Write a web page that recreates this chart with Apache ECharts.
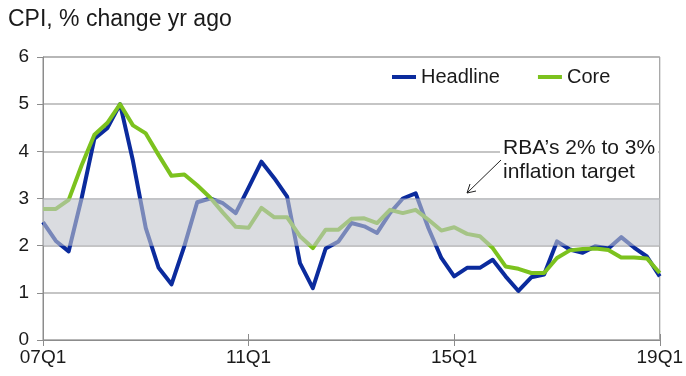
<!DOCTYPE html>
<html>
<head>
<meta charset="utf-8">
<script src="https://cdn.jsdelivr.net/npm/echarts@6/dist/echarts.min.js"></script>
<style>
  html, body { margin: 0; padding: 0; background: #fff; }
  #chart { width: 686px; height: 376px; }
</style>
</head>
<body>
<div id="chart"></div>
<script>
// Quarterly CPI, year-ended % change, 2007Q1 .. 2019Q1
const quarters = [];
for (let y = 7; y <= 19; y++) {
  for (let q = 1; q <= 4; q++) {
    if (y === 19 && q > 1) break;
    quarters.push(String(y).padStart(2, '0') + 'Q' + q);
  }
}

const headline = [
  2.5, 2.1, 1.88, 3.0, 4.27, 4.49, 5.0, 3.8, 2.37, 1.53,
  1.18, 1.99, 2.92, 3.0, 2.9, 2.69, 3.23, 3.78, 3.43, 3.04,
  1.63, 1.1, 1.94, 2.09, 2.48, 2.41, 2.27, 2.69, 3.0, 3.11,
  2.37, 1.74, 1.35, 1.53, 1.53, 1.7, 1.35, 1.04, 1.33, 1.39,
  2.09, 1.92, 1.85, 1.99, 1.94, 2.18, 1.96, 1.77, 1.35
];

const core = [
  2.78, 2.78, 2.97, 3.7, 4.35, 4.6, 5.0, 4.55, 4.38, 3.92,
  3.48, 3.51, 3.28, 3.02, 2.7, 2.4, 2.38, 2.8, 2.6, 2.6,
  2.2, 1.95, 2.34, 2.34, 2.57, 2.58, 2.48, 2.76, 2.69, 2.76,
  2.55, 2.32, 2.39, 2.25, 2.2, 1.95, 1.56, 1.51, 1.42, 1.42,
  1.74, 1.9, 1.93, 1.94, 1.91, 1.75, 1.75, 1.73, 1.42
];

// RBA inflation target band (%)
const targetBand = [2, 3];

const FONT = '"Liberation Sans", Arial, sans-serif';
const AXIS_GREY = '#8c8c8c';
const labelEvery = (i) => i % 16 === 0;

const chart = echarts.init(document.getElementById('chart'), null, { renderer: 'canvas' });

chart.setOption({
  animation: false,
  backgroundColor: '#ffffff',
  textStyle: { fontFamily: FONT },
  title: {
    text: 'CPI, % change yr ago',
    left: 8,
    top: 8,
    padding: 0,
    textStyle: { fontFamily: FONT, fontSize: 23, fontWeight: 'normal', color: '#1a1a1a' }
  },
  legend: {
    data: ['Headline', 'Core'],
    left: 392,
    top: 67,
    padding: 0,
    icon: 'rect',
    itemWidth: 24,
    itemHeight: 4,
    itemGap: 38,
    textStyle: { fontFamily: FONT, fontSize: 20, color: '#1a1a1a' }
  },
  grid: {
    left: 43, right: 25, top: 57, bottom: 36,
    show: true, borderColor: AXIS_GREY, borderWidth: 1
  },
  xAxis: [
    {
      type: 'category',
      data: quarters,
      boundaryGap: false,
      position: 'bottom',
      axisLine: { lineStyle: { color: AXIS_GREY, width: 1 } },
      axisTick: { show: true, interval: labelEvery, length: 6, lineStyle: { color: AXIS_GREY } },
      axisLabel: {
        interval: labelEvery, margin: 8,
        fontFamily: FONT, fontSize: 19, color: '#1a1a1a'
      },
      splitLine: { show: false }
    },
    {
      type: 'category',
      data: quarters,
      boundaryGap: false,
      position: 'bottom',
      axisLine: { show: false },
      axisTick: { show: true, inside: true, interval: labelEvery, length: 6, lineStyle: { color: AXIS_GREY } },
      axisLabel: { show: false },
      splitLine: { show: false }
    }
  ],
  yAxis: {
    type: 'value',
    min: 0, max: 6, interval: 1,
    axisLine: { show: true, lineStyle: { color: AXIS_GREY, width: 1 } },
    axisTick: { show: true, length: 6, lineStyle: { color: AXIS_GREY } },
    axisLabel: { margin: 14, fontFamily: FONT, fontSize: 19, color: '#1a1a1a' },
    splitLine: { lineStyle: { color: '#b2b2b2', width: 1.5 } }
  },
  series: [
    {
      name: 'Headline',
      type: 'line',
      data: headline,
      symbol: 'none',
      z: 2,
      color: '#0b2b9d',
      lineStyle: { color: '#0b2b9d', width: 4, join: 'round' }
    },
    {
      name: 'Core',
      type: 'line',
      data: core,
      symbol: 'none',
      z: 3,
      color: '#7cc21e',
      lineStyle: { color: '#7cc21e', width: 4, join: 'round' }
    },
    {
      // translucent target band painted over both lines
      name: 'target',
      type: 'line',
      data: [],
      z: 6,
      silent: true,
      markArea: {
        silent: true,
        z: 10,
        itemStyle: { color: 'rgba(193,197,203,0.6)' },
        data: [[{ yAxis: targetBand[0] }, { yAxis: targetBand[1] }]]
      }
    }
  ],
  graphic: [
    {
      type: 'rect',
      z: 50,
      shape: { x: 500, y: 135, width: 158, height: 51 },
      style: { fill: '#ffffff' }
    },
    {
      type: 'text',
      z: 51,
      x: 503, y: 148,
      style: {
        text: 'RBA\u2019s 2% to 3%',
        font: '21px ' + FONT,
        fill: '#1a1a1a',
        verticalAlign: 'middle'
      }
    },
    {
      type: 'text',
      z: 51,
      x: 503, y: 172,
      style: {
        text: 'inflation target',
        font: '21px ' + FONT,
        fill: '#1a1a1a',
        verticalAlign: 'middle'
      }
    },
    {
      type: 'line',
      z: 51,
      shape: { x1: 501, y1: 160, x2: 467, y2: 193 },
      style: { stroke: '#222', lineWidth: 1 }
    },
    {
      type: 'polyline',
      z: 51,
      shape: { points: [[476, 191], [467, 193], [470, 184]] },
      style: { stroke: '#222', lineWidth: 1, fill: null }
    }
  ]
});
</script>
</body>
</html>
